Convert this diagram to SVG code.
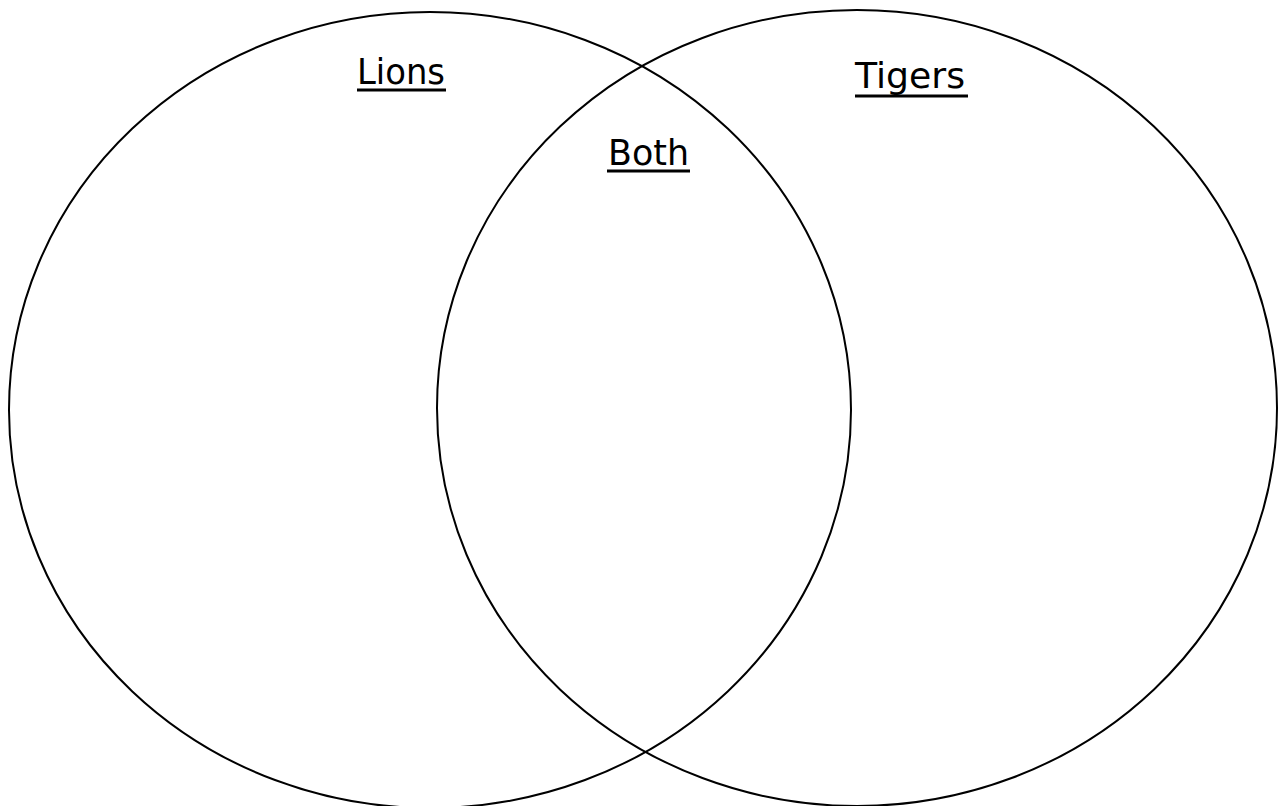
<svg xmlns="http://www.w3.org/2000/svg" width="1279" height="806" viewBox="0 0 1279 806">
  <style>
    .set { fill: none; stroke: #000; stroke-width: 2; }
    .lbl { font-family: "Comic Sans MS", "DejaVu Sans", sans-serif; font-size: 35px; fill: #000; }
    .ul { stroke: #000; stroke-width: 3; }
  </style>
  <rect width="1279" height="806" fill="#fff"/>
  <g id="lions">
    <ellipse class="set" cx="430" cy="410" rx="421" ry="398"/>
    <text class="lbl" x="357" y="84" textLength="88" lengthAdjust="spacingAndGlyphs">Lions</text>
    <line class="ul" x1="357" y1="90" x2="446" y2="90"/>
  </g>
  <g id="tigers">
    <ellipse class="set" cx="857" cy="408" rx="420" ry="398"/>
    <text class="lbl" x="855" y="88" textLength="110" lengthAdjust="spacingAndGlyphs">Tigers</text>
    <line class="ul" x1="855" y1="96" x2="968" y2="96"/>
  </g>
  <g id="both">
    <text class="lbl" x="608" y="165" textLength="81" lengthAdjust="spacingAndGlyphs">Both</text>
    <line class="ul" x1="607" y1="171" x2="690" y2="171"/>
  </g>
  <g id="connectors"/>
</svg>
